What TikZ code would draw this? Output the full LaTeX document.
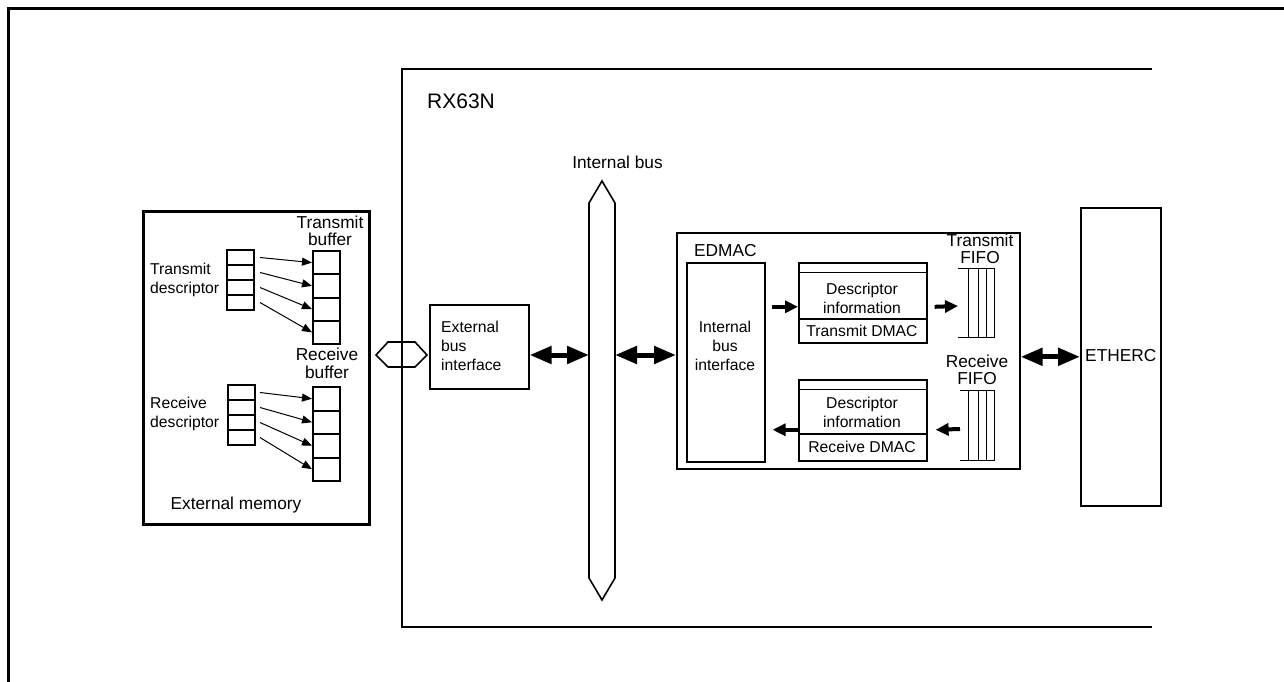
\documentclass[tikz,border=0pt]{standalone}
\usepackage{fontspec}
\setmainfont{Liberation Sans}
\usetikzlibrary{arrows.meta,calc}
\newcommand\fsmall{\fontsize{15.7}{19}\selectfont}
\newcommand\fbig{\fontsize{17.3}{17}\selectfont}
\newcommand\fhuge{\fontsize{21}{24}\selectfont}
\begin{document}
\begin{tikzpicture}[x=1pt,y=-1pt,
  box/.style={draw, line width=1.6pt, inner sep=0pt, anchor=north west},
  cell/.style={box, line width=2pt, minimum width=27pt},
  lbl/.style={inner sep=0pt, font=\fsmall, align=center},
  biglbl/.style={inner sep=0pt, font=\fbig, align=center},
  sarr/.style={-{Triangle[length=10pt,width=8pt]}, line width=1pt},
  marr/.style={-{Triangle[length=13pt,width=12pt]}, line width=4pt},
  darr/.style={{Triangle[length=22pt,width=17pt]}-{Triangle[length=22pt,width=17pt]}, line width=5pt},
  fifoline/.style={line width=0.8pt},
  frameline/.style={line width=3pt},
  chipline/.style={line width=1.6pt}
]
\useasboundingbox (0,0) rectangle (1284,682);

% outer frame
\draw[frameline] (8.5,682) -- (8.5,8.5) -- (1284,8.5);

% RX63N region
\draw[chipline] (1152,69) -- (402,69) -- (402,627) -- (1152,627);
\node[inner sep=0pt, font=\fhuge, anchor=west] (rx) at (427,101) {RX63N};

% External memory
\node[box, line width=2.5pt, minimum width=226pt, minimum height=313pt] (extmem) at (142,210) {};
\node[biglbl] (extmemlbl) at (236,505) {External memory};

\node[lbl, align=left, anchor=west] (tdlbl) at (150,279.5) {Transmit\\descriptor};
\node[biglbl] (tblbl) at (330,231) {Transmit\\buffer};
\node[biglbl] (rblbl) at (327,363.5) {Receive\\[1pt]buffer};
\node[lbl, align=left, anchor=west] (rdlbl) at (150,414) {Receive\\descriptor};

\foreach \i in {1,...,4}{
  \node[cell, minimum height=15pt] (td\i) at (226,{249+15*(\i-1)}) {};
  \node[cell, minimum height=23.25pt] (tb\i) at (312,{250+23.25*(\i-1)}) {};
  \node[cell, minimum height=15pt] (rd\i) at (227,{384+15*(\i-1)}) {};
  \node[cell, minimum height=23.5pt] (rb\i) at (312,{386+23.5*(\i-1)}) {};
}
\foreach \i in {1,...,4}{
  \draw[sarr] ([xshift=5pt]td\i.east) -- (tb\i.west);
  \draw[sarr] ([xshift=4pt]rd\i.east) -- (rb\i.west);
}

% hexagon connector
\draw[chipline] (376,355) -- (388,342) -- (415,342) -- (427,355) -- (415,367) -- (388,367) -- cycle;

% External bus interface
\node[box, minimum width=99pt, minimum height=84pt] (ebi) at (429,304) {};
\node[lbl, align=left, anchor=west] (ebilbl) at (441,346) {External\\bus\\interface};

% Internal bus
\node[biglbl] (ibuslbl) at (617.5,162) {Internal bus};
\draw[chipline] (602,181) -- (615,203) -- (615,578) -- (602,600) -- (589,578) -- (589,203) -- cycle;
\coordinate (busL) at (589,355);
\coordinate (busR) at (615,355);

% EDMAC
\node[box, minimum width=343pt, minimum height=236pt] (edmac) at (676,232) {};
\node[biglbl, anchor=west] (edmaclbl) at (694,251) {EDMAC};
\node[box, minimum width=78pt, minimum height=199pt] (ibi) at (686,262) {};
\node[lbl] (ibilbl) at (725,346) {Internal\\bus\\interface};

% Transmit DMAC
\node[box, minimum width=128pt, minimum height=80pt] (tdmac) at (798,262) {};
\draw[fifoline] (798,272) -- (926,272);
\draw[chipline] (798,319) -- (926,319);
\node[lbl] (tdinfo) at (862,298) {Descriptor\\information};
\node[lbl] (tdlab) at (862,330.5) {Transmit DMAC};

% Receive DMAC
\node[box, minimum width=128pt, minimum height=81pt] (rdmac) at (798,379) {};
\draw[fifoline] (798,389) -- (926,389);
\draw[chipline] (798,434) -- (926,434);
\node[lbl] (rdinfo) at (862,412) {Descriptor\\information};
\node[lbl] (rdlab) at (862,447) {Receive DMAC};

% FIFOs
\node[inner sep=0pt, minimum width=37pt, minimum height=69pt, anchor=north west] (tfifo) at (958,268) {};
\node[inner sep=0pt, minimum width=35pt, minimum height=70pt, anchor=north west] (rfifo) at (960,390) {};
\draw[fifoline] (tfifo.north west) -- (tfifo.north east) (tfifo.south west) -- (tfifo.south east);
\draw[fifoline] (rfifo.north west) -- (rfifo.north east) (rfifo.south west) -- (rfifo.south east);
\foreach \x in {968,978,986,994}{
  \draw[fifoline] (\x,268) -- (\x,337);
  \draw[fifoline] (\x,390) -- (\x,460);
}
\node[biglbl] (tfifolbl) at (980,248.5) {Transmit\\FIFO};
\node[biglbl] (rfifolbl) at (977,369.5) {Receive\\FIFO};

% ETHERC
\node[box, minimum width=80pt, minimum height=298pt] (etherc) at (1080,207) {};
\node[biglbl, anchor=west] (ethlbl) at (1085,356) {ETHERC};

% arrows
\draw[darr] (busL -| ebi.east) -- (busL);
\draw[darr] (busR) -- (busR -| edmac.west);
\draw[darr] (edmac.east |- etherc.west) -- (etherc.west);

\draw[marr] ($(ibi.east |- tdmac.west)+(6,4)$) -- ($(tdmac.west)+(0,4)$);
\draw[marr] ($(rdmac.west)+(0,9.5)$) -- ($(ibi.east |- rdmac.west)+(7,9.5)$);
\draw[marr] ($(tdmac.east)+(7,4)$) -- (tfifo.west |- 0,306);
\draw[marr] (rfifo.west |- 0,429) -- ($(rdmac.east)+(8,9.5)$);
\end{tikzpicture}
\end{document}
